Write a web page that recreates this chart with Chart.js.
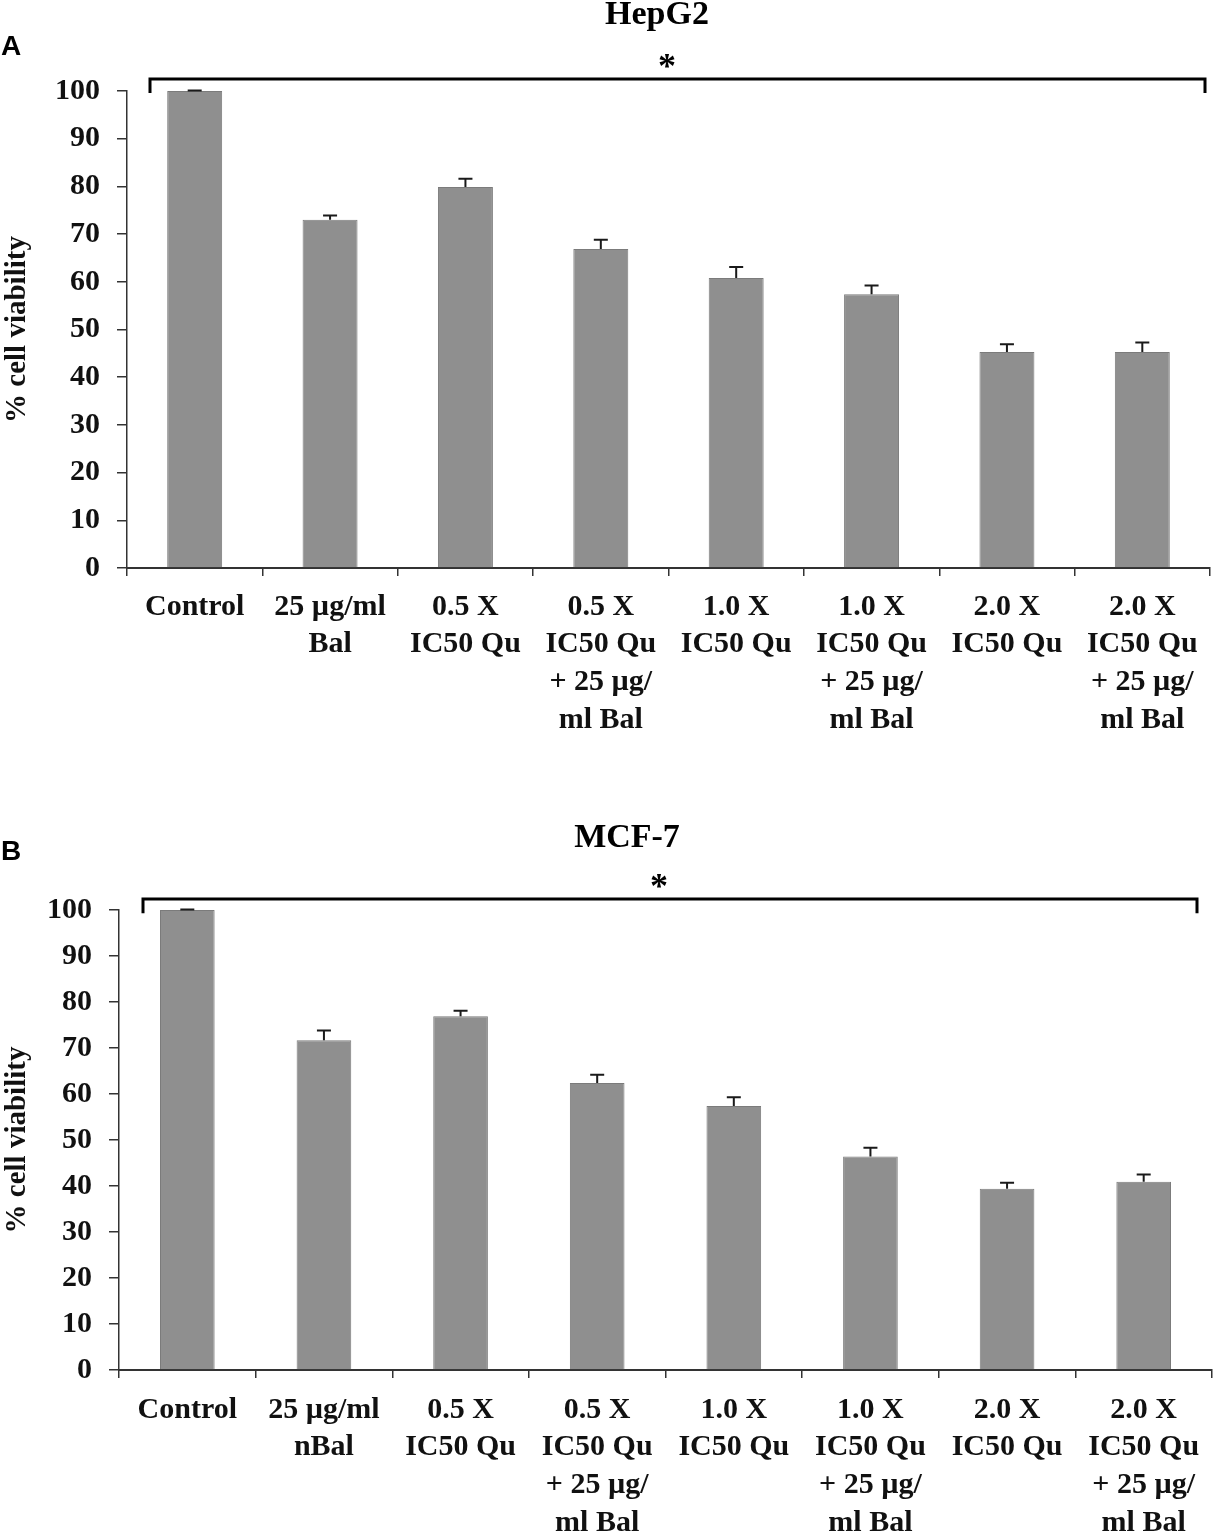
<!DOCTYPE html>
<html>
<head>
<meta charset="utf-8">
<script src="https://cdn.jsdelivr.net/npm/chart.js@4.4.0/dist/chart.umd.min.js"></script>
<style>
	body { margin: 0; background: #fff; }
	#wrap { position: relative; width: 1218px; height: 1533px; }
	canvas { position: absolute; left: 0; }
	#chartA { top: 0; }
	#chartB { top: 790px; }
</style>
</head>
<body>
<div id="wrap">
	<canvas id="chartA" width="1218" height="790"></canvas>
	<canvas id="chartB" width="1218" height="743"></canvas>
</div>
<script>
// Kategorie (etykiety osi X)
const hepg2Labels = [
	'Control',
	['25 µg/ml', 'Bal'],
	['0.5 X', 'IC50 Qu'],
	['0.5 X', 'IC50 Qu', '+ 25 µg/', 'ml Bal'],
	['1.0 X', 'IC50 Qu'],
	['1.0 X', 'IC50 Qu', '+ 25 µg/', 'ml Bal'],
	['2.0 X', 'IC50 Qu'],
	['2.0 X', 'IC50 Qu', '+ 25 µg/', 'ml Bal'],
];
const mcf7Labels = [
	'Control',
	['25 µg/ml', 'nBal'],
	['0.5 X', 'IC50 Qu'],
	['0.5 X', 'IC50 Qu', '+ 25 µg/', 'ml Bal'],
	['1.0 X', 'IC50 Qu'],
	['1.0 X', 'IC50 Qu', '+ 25 µg/', 'ml Bal'],
	['2.0 X', 'IC50 Qu'],
	['2.0 X', 'IC50 Qu', '+ 25 µg/', 'ml Bal'],
];

// Wartości (% żywotności) i błędy (+)
const hepg2Values = [100, 73.0, 79.9, 66.9, 60.8, 57.4, 45.3, 45.3];
const hepg2Errors = [0.1, 0.9, 1.7, 1.9, 2.3, 1.8, 1.6, 2.0];
const mcf7Values = [100, 71.7, 76.9, 62.4, 57.4, 46.4, 39.4, 40.9];
const mcf7Errors = [0.1, 2.1, 1.2, 1.8, 1.9, 1.9, 1.3, 1.6];

// Podziałka osi Y
const yTicks = [0, 10, 20, 30, 40, 50, 60, 70, 80, 90, 100];

const SERIF = "'Liberation Serif', 'Times New Roman', serif";
const SANS = "'Liberation Sans', Arial, sans-serif";

// Słupki błędów, klamra, gwiazdka, tytuł i litera panelu
const decorPlugin = {
	id: 'decor',
	afterDatasetsDraw(chart, args, opts) {
		const { ctx, chartArea } = chart;
		const ys = chart.scales.y;
		const meta = chart.getDatasetMeta(0);
		const vals = chart.data.datasets[0].data;

		ctx.save();
		// error bars
		ctx.strokeStyle = '#1a1a1a';
		ctx.lineWidth = 2;
		meta.data.forEach((bar, i) => {
			const top = ys.getPixelForValue(vals[i] + opts.errors[i]);
			ctx.beginPath();
			ctx.moveTo(bar.x, bar.y);
			ctx.lineTo(bar.x, top);
			ctx.moveTo(bar.x - 7, top);
			ctx.lineTo(bar.x + 7, top);
			ctx.stroke();
		});

		// bracket
		const bl = chartArea.left + opts.bracketLeft;
		const br = chartArea.right - opts.bracketRight;
		const bt = ys.getPixelForValue(opts.bracketTop);
		const bb = ys.getPixelForValue(opts.bracketDrop);
		ctx.strokeStyle = '#000';
		ctx.lineWidth = 3;
		ctx.beginPath();
		ctx.moveTo(bl, bb);
		ctx.lineTo(bl, bt);
		ctx.lineTo(br, bt);
		ctx.lineTo(br, bb);
		ctx.stroke();

		ctx.fillStyle = '#000';
		ctx.textAlign = 'center';
		ctx.textBaseline = 'alphabetic';
		ctx.font = `bold 36px ${SERIF}`;
		ctx.fillText('*', opts.starX, bt - 1);

		// title
		ctx.textBaseline = 'middle';
		ctx.font = `bold 34px ${SERIF}`;
		ctx.fillText(opts.title, opts.titleX, opts.titleY);

		// panel letter
		ctx.textAlign = 'left';
		ctx.font = `bold 28px ${SANS}`;
		ctx.fillText(opts.letter, 1, opts.letterY);
		ctx.restore();
	},
};

function buildChart(id, labels, values, errors, cfg) {
	const ctx = document.getElementById(id).getContext('2d');
	return new Chart(ctx, {
		type: 'bar',
		data: {
			labels,
			datasets: [
				{
					data: values,
					backgroundColor: '#8f8f8f',
					borderColor: '#7b7b7b',
					borderWidth: 1,
					categoryPercentage: 1,
					barPercentage: cfg.barPct,
				},
			],
		},
		options: {
			responsive: false,
			animation: false,
			devicePixelRatio: 1,
			layout: {
				padding: { top: cfg.top, right: cfg.right, left: 0, bottom: 0 },
			},
			plugins: {
				legend: { display: false },
				tooltip: { enabled: false },
				decor: cfg.decor,
			},
			scales: {
				x: {
					grid: {
						display: true,
						drawOnChartArea: false,
						offset: true,
						tickLength: 8,
						color: '#333',
						lineWidth: 1.5,
					},
					border: { color: '#333', width: 2 },
					ticks: {
						color: '#111',
						padding: cfg.xPad,
						maxRotation: 0,
						minRotation: 0,
						autoSkip: false,
						font: { family: SERIF, weight: 'bold', size: 30, lineHeight: 1.26 },
					},
					afterFit(s) {
						s.height = cfg.xHeight;
					},
				},
				y: {
					min: 0,
					max: 100,
					afterBuildTicks(s) {
						s.ticks = yTicks.map((v) => ({ value: v }));
					},
					grid: {
						drawOnChartArea: false,
						tickLength: 10,
						color: '#333',
						lineWidth: 1.5,
					},
					border: { color: '#333', width: 1.5 },
					ticks: {
						color: '#111',
						padding: 17,
						font: { family: SERIF, weight: 'bold', size: 30 },
					},
					title: {
						display: true,
						text: '% cell viability',
						color: '#111',
						padding: { top: 0, bottom: 0 },
						font: { family: SERIF, weight: 'bold', size: 29 },
					},
					afterFit(s) {
						s.width = cfg.yWidth;
					},
				},
			},
		},
		plugins: [decorPlugin],
	});
}

window.addEventListener('DOMContentLoaded', () => {
	buildChart('chartA', hepg2Labels, hepg2Values, hepg2Errors, {
		top: 91,
		right: 8,
		yWidth: 127,
		xHeight: 222,
		xPad: 12,
		barPct: 0.406,
		decor: {
			errors: hepg2Errors,
			bracketLeft: 23,
			bracketRight: 5,
			bracketTop: 102.5,
			bracketDrop: 99.6,
			starX: 667,
			title: 'HepG2',
			titleX: 657,
			titleY: 15,
			letter: 'A',
			letterY: 47,
		},
	});

	buildChart('chartB', mcf7Labels, mcf7Values, mcf7Errors, {
		top: 120,
		right: 6,
		yWidth: 119,
		xHeight: 163,
		xPad: 13,
		barPct: 0.4,
		decor: {
			errors: mcf7Errors,
			bracketLeft: 24,
			bracketRight: 15,
			bracketTop: 102.4,
			bracketDrop: 99.3,
			starX: 659,
			title: 'MCF-7',
			titleX: 627,
			titleY: 48,
			letter: 'B',
			letterY: 62,
		},
	});
});
</script>
</body>
</html>
